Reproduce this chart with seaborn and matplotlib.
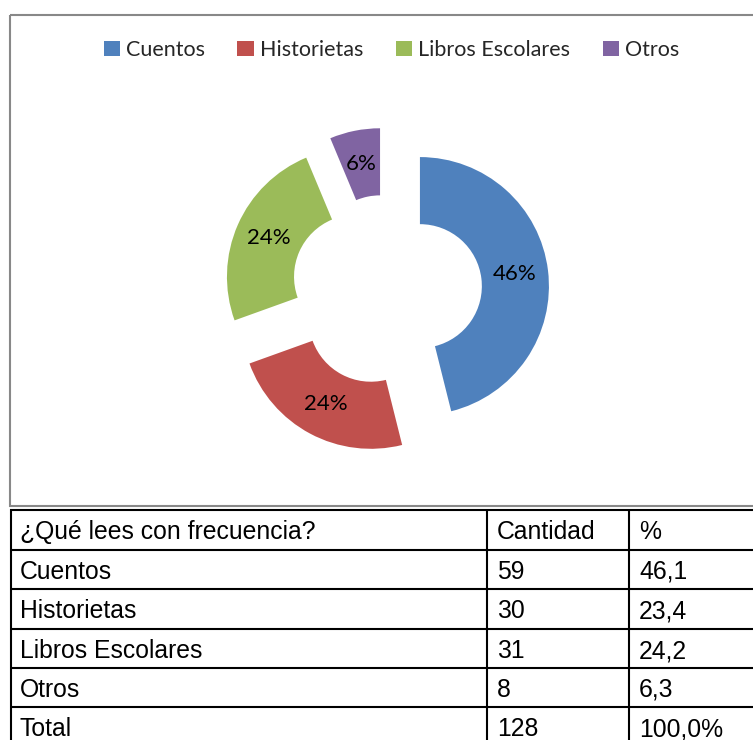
import matplotlib
matplotlib.use("Agg")
import matplotlib.pyplot as plt
from matplotlib.patches import Rectangle
import seaborn as sns

# ---- data ----
categories = ["Cuentos", "Historietas", "Libros Escolares", "Otros"]
cantidad = [59, 30, 31, 8]
porcentaje = ["46,1", "23,4", "24,2", "6,3"]
pie_values = [46.1, 23.4, 24.2, 6.3]
pie_labels = ["46%", "24%", "24%", "6%"]
total_cantidad = "128"
total_pct = "100,0%"
header = ["¿Qué lees con frecuencia?", "Cantidad", "%"]
colors = ["#4F81BD", "#C0504D", "#9BBB59", "#8064A2"]

sns.set_theme(style="white")
plt.rcParams["font.family"] = ["Lato", "DejaVu Sans"]

W, H = 753, 740
fig = plt.figure(figsize=(W / 100, H / 100), dpi=100)
fig.patch.set_facecolor("white")

# overlay axes in pixel coordinates for frame + table
bg = fig.add_axes([0, 0, 1, 1])
bg.set_xlim(0, W)
bg.set_ylim(H, 0)
bg.axis("off")
bg.add_patch(Rectangle((10.5, 14.5), 760, 491, fill=False, ec="#888888", lw=1.5))

# pie axes
ax = fig.add_axes([11 / W, (H - 505) / H, 742 / W, 490 / H])
palette = sns.color_palette(colors)
wedges, texts, autotexts = ax.pie(
    pie_values,
    colors=palette,
    startangle=90,
    counterclock=False,
    explode=[0.26] * len(pie_values),
    radius=1.0,
    wedgeprops=dict(width=0.52, edgecolor="none"),
    autopct="%1.0f%%",
    pctdistance=0.74,
    textprops=dict(fontsize=16, color="black"),
)
for t, lab in zip(autotexts, pie_labels):
    t.set_text(lab)
ax.set_xlim(-2.912, 2.840)
ax.set_ylim(-1.665, 2.133)
ax.set_aspect("auto")
ax.axis("off")

fig.legend(
    wedges, categories, loc="center", bbox_to_anchor=(391.5 / W, 1 - 50 / H),
    ncol=4, frameon=False, fontsize=15.5, handlelength=0.75, handleheight=0.75,
    handletextpad=0.3, columnspacing=1.5, borderaxespad=0,
)

# table
rows_y = [510, 550, 589, 629, 668, 707]
for y in rows_y:
    bg.plot([10, 760], [y, y], color="black", lw=1.5, solid_capstyle="butt")
for x in [11, 487, 629]:
    bg.plot([x, x], [509, 745], color="black", lw=1.5, solid_capstyle="butt")

tfont = dict(family=["Liberation Sans", "DejaVu Sans"], fontsize=17.8, color="black",
             va="baseline", ha="left")
col_x = [20, 497, 639]
rows = [header] + [[c, str(q), p] for c, q, p in zip(categories, cantidad, porcentaje)] \
    + [["Total", total_cantidad, total_pct]]
for i, row in enumerate(rows):
    yb = rows_y[i] + 29
    for x, txt in zip(col_x, row):
        bg.text(x, yb, txt, **tfont)

fig.savefig("out.png", dpi=100, facecolor="white")
